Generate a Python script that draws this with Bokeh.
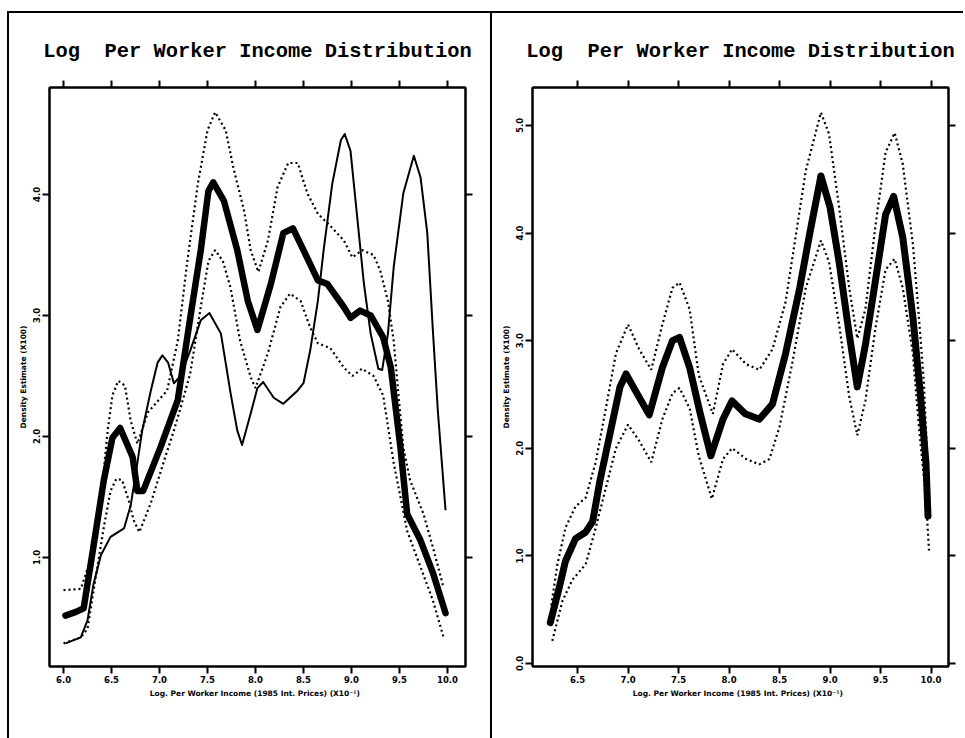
from bokeh.plotting import figure
from bokeh.layouts import row
from bokeh.models import LinearAxis, Range1d, FixedTicker, Title
from bokeh.embed import file_html
from bokeh.resources import INLINE

# ---------------- left panel ----------------
left_x_ticks = [6.0, 6.5, 7.0, 7.5, 8.0, 8.5, 9.0, 9.5, 10.0]
left_x_labels = ["6.0", "6.5", "7.0", "7.5", "8.0", "8.5", "9.0", "9.5", "10.0"]
left_y_ticks = [1.0, 2.0, 3.0, 4.0]
left_y_labels = ["1.0", "2.0", "3.0", "4.0"]

# kernel density estimate
left_est_x = [6.02, 6.13, 6.21, 6.31, 6.42, 6.51, 6.59, 6.72, 6.77, 6.83, 7.01, 7.19,
              7.32, 7.43, 7.51, 7.56, 7.67, 7.81, 7.92, 8.02, 8.16, 8.29, 8.39, 8.50,
              8.65, 8.75, 8.92, 8.99, 9.09, 9.20, 9.33, 9.41, 9.51, 9.58, 9.72, 9.85, 9.98]
left_est_y = [0.52, 0.55, 0.58, 1.08, 1.64, 1.99, 2.07, 1.83, 1.55, 1.55, 1.91, 2.30,
              2.98, 3.54, 4.03, 4.10, 3.95, 3.54, 3.12, 2.88, 3.26, 3.68, 3.72, 3.54,
              3.29, 3.26, 3.07, 2.98, 3.04, 3.00, 2.82, 2.57, 1.91, 1.36, 1.14, 0.87, 0.54]

# upper confidence band
left_up_x = [6.00, 6.18, 6.28, 6.35, 6.42, 6.46, 6.51, 6.57, 6.64, 6.70, 6.77, 6.88,
             6.99, 7.08, 7.19, 7.29, 7.40, 7.50, 7.58, 7.69, 7.77, 7.88, 7.95, 8.03,
             8.13, 8.23, 8.34, 8.44, 8.54, 8.65, 8.78, 8.92, 9.01, 9.11, 9.23, 9.30,
             9.38, 9.44, 9.49, 9.54, 9.61, 9.75, 9.85, 9.96]
left_up_y = [0.73, 0.74, 0.98, 1.36, 1.72, 2.05, 2.34, 2.46, 2.42, 2.13, 1.94, 2.20,
             2.30, 2.38, 2.79, 3.45, 4.09, 4.53, 4.68, 4.53, 4.22, 3.87, 3.54, 3.36,
             3.62, 4.06, 4.26, 4.26, 4.01, 3.84, 3.74, 3.62, 3.48, 3.54, 3.50, 3.37,
             3.12, 2.79, 2.34, 1.91, 1.64, 1.36, 1.08, 0.75]

# lower confidence band
left_lo_x = [6.00, 6.18, 6.25, 6.33, 6.42, 6.49, 6.55, 6.61, 6.68, 6.73, 6.79, 6.91,
             7.04, 7.15, 7.25, 7.32, 7.43, 7.51, 7.58, 7.66, 7.74, 7.84, 7.95, 8.00,
             8.13, 8.26, 8.36, 8.47, 8.57, 8.65, 8.78, 8.92, 9.01, 9.11, 9.23, 9.33,
             9.44, 9.58, 9.72, 9.85, 9.96]
left_lo_y = [0.29, 0.34, 0.41, 0.81, 1.25, 1.55, 1.65, 1.64, 1.47, 1.31, 1.21, 1.45,
             1.78, 2.05, 2.32, 2.52, 3.07, 3.45, 3.54, 3.45, 3.23, 2.79, 2.49, 2.40,
             2.69, 3.07, 3.18, 3.12, 2.90, 2.77, 2.73, 2.57, 2.50, 2.56, 2.50, 2.34,
             1.78, 1.22, 0.92, 0.64, 0.34]

# comparison distribution (thin line)
left_cmp_x = [6.02, 6.18, 6.25, 6.31, 6.39, 6.49, 6.63, 6.70, 6.75, 6.82, 6.91, 6.98,
              7.03, 7.09, 7.15, 7.22, 7.32, 7.43, 7.52, 7.64, 7.74, 7.81, 7.86, 7.95,
              8.02, 8.08, 8.19, 8.29, 8.44, 8.50, 8.57, 8.65, 8.71, 8.80, 8.89, 8.93,
              8.99, 9.06, 9.13, 9.20, 9.28, 9.32, 9.38, 9.44, 9.54, 9.65, 9.72, 9.79,
              9.85, 9.90, 9.98]
left_cmp_y = [0.29, 0.34, 0.48, 0.77, 1.02, 1.17, 1.24, 1.43, 1.68, 2.05, 2.38, 2.61,
              2.67, 2.61, 2.44, 2.50, 2.71, 2.96, 3.02, 2.85, 2.36, 2.05, 1.93, 2.19,
              2.40, 2.45, 2.32, 2.27, 2.38, 2.44, 2.71, 3.12, 3.54, 4.09, 4.45, 4.50,
              4.36, 3.81, 3.26, 2.85, 2.56, 2.55, 2.85, 3.40, 4.01, 4.32, 4.14, 3.68,
              2.85, 2.21, 1.39]

# ---------------- right panel ----------------
right_x_ticks = [6.5, 7.0, 7.5, 8.0, 8.5, 9.0, 9.5, 10.0]
right_x_labels = ["6.5", "7.0", "7.5", "8.0", "8.5", "9.0", "9.5", "10.0"]
right_y_ticks = [0.0, 1.0, 2.0, 3.0, 4.0, 5.0]
right_y_labels = ["0.0", "1.0", "2.0", "3.0", "4.0", "5.0"]

right_est_x = [6.23, 6.32, 6.38, 6.48, 6.58, 6.65, 6.72, 6.82, 6.92, 6.98, 7.07, 7.21,
               7.34, 7.44, 7.51, 7.61, 7.71, 7.82, 7.94, 8.03, 8.16, 8.30, 8.43, 8.56,
               8.70, 8.80, 8.91, 9.00, 9.09, 9.19, 9.27, 9.35, 9.45, 9.55, 9.63, 9.72,
               9.82, 9.89, 9.95, 9.97]
right_est_y = [0.38, 0.71, 0.95, 1.16, 1.22, 1.32, 1.69, 2.13, 2.57, 2.69, 2.54, 2.31,
               2.75, 3.00, 3.03, 2.75, 2.34, 1.93, 2.27, 2.44, 2.32, 2.27, 2.41, 2.88,
               3.49, 4.00, 4.53, 4.24, 3.73, 3.06, 2.57, 2.96, 3.56, 4.17, 4.34, 3.96,
               3.22, 2.55, 1.86, 1.37]

right_up_x = [6.24, 6.30, 6.38, 6.48, 6.58, 6.68, 6.78, 6.88, 7.00, 7.11, 7.23, 7.34,
              7.44, 7.51, 7.61, 7.70, 7.84, 7.94, 8.03, 8.17, 8.30, 8.43, 8.56, 8.66,
              8.76, 8.91, 8.99, 9.09, 9.19, 9.27, 9.35, 9.45, 9.55, 9.64, 9.72, 9.82,
              9.88, 9.93, 9.97]
right_up_y = [0.54, 0.92, 1.26, 1.46, 1.54, 1.87, 2.37, 2.88, 3.15, 2.92, 2.73, 3.15,
              3.49, 3.54, 3.29, 2.68, 2.32, 2.78, 2.92, 2.78, 2.73, 2.92, 3.36, 3.97,
              4.58, 5.12, 4.92, 4.24, 3.49, 3.02, 3.29, 4.07, 4.75, 4.93, 4.64, 3.90,
              3.22, 2.60, 1.75]

right_lo_x = [6.25, 6.35, 6.45, 6.58, 6.68, 6.78, 6.88, 7.00, 7.11, 7.23, 7.34, 7.44,
              7.51, 7.61, 7.70, 7.83, 7.94, 8.03, 8.17, 8.30, 8.40, 8.50, 8.63, 8.76,
              8.91, 8.99, 9.09, 9.19, 9.27, 9.35, 9.45, 9.55, 9.64, 9.72, 9.82, 9.88,
              9.95, 9.98]
right_lo_y = [0.21, 0.58, 0.78, 0.92, 1.26, 1.63, 2.00, 2.22, 2.07, 1.87, 2.27, 2.51,
              2.56, 2.37, 1.93, 1.53, 1.90, 2.00, 1.90, 1.85, 1.90, 2.20, 2.81, 3.49,
              3.93, 3.73, 3.15, 2.48, 2.12, 2.44, 3.12, 3.66, 3.76, 3.49, 2.88, 2.20,
              1.53, 1.05]

TITLE = "Log\u00a0\u00a0Per Worker Income Distribution"
X_LABEL = "Log. Per Worker Income (1985 Int. Prices)   (X10\u207b\u00b9)"
Y_LABEL = "Density Estimate (X100)"

MONO = "Liberation Mono"
SANS = "DejaVu Sans"


def style_axis(ax, show_labels):
    ax.axis_line_width = 2
    ax.axis_line_color = "black"
    ax.major_tick_line_width = 2
    ax.major_tick_line_color = "black"
    ax.major_tick_out = 7
    ax.major_tick_in = 0
    ax.minor_tick_line_color = None
    ax.major_label_text_font = SANS
    ax.major_label_text_font_style = "bold"
    ax.major_label_text_font_size = "8.5px"
    ax.major_label_text_color = "black" if show_labels else None
    ax.major_label_standoff = 2
    ax.axis_label_text_font = SANS
    ax.axis_label_text_font_style = "bold"
    ax.axis_label_text_font_size = "7.5px"
    ax.axis_label_text_color = "black"
    ax.axis_label_standoff = 3


def panel(width, borders, xr, yr, xt, xl, yt, yl, title_offset):
    p = figure(width=width, height=725, x_range=Range1d(*xr), y_range=Range1d(*yr),
               output_backend="svg", toolbar_location=None,
               x_axis_location=None, y_axis_location=None,
               min_border_left=borders[0], min_border_right=borders[1],
               min_border_top=borders[2], min_border_bottom=borders[3])
    p.grid.visible = False
    p.outline_line_color = "black"
    p.outline_line_width = 2
    p.background_fill_color = "white"
    p.border_fill_color = "white"

    bottom = LinearAxis(ticker=FixedTicker(ticks=xt),
                        major_label_overrides=dict(zip(xt, xl)),
                        axis_label=X_LABEL)
    style_axis(bottom, True)
    p.add_layout(bottom, "below")

    left = LinearAxis(ticker=FixedTicker(ticks=yt),
                      major_label_overrides=dict(zip(yt, yl)),
                      axis_label=Y_LABEL)
    style_axis(left, True)
    left.major_label_orientation = "vertical"
    p.add_layout(left, "left")

    top = LinearAxis(ticker=FixedTicker(ticks=xt))
    style_axis(top, False)
    p.add_layout(top, "above")

    right = LinearAxis(ticker=FixedTicker(ticks=yt))
    style_axis(right, False)
    p.add_layout(right, "right")

    p.title = Title(text=TITLE, align="center", offset=title_offset,
                    text_font=MONO, text_font_style="bold", text_font_size="20.4px",
                    text_color="black", standoff=36)
    return p


def draw(p, ex, ey, ux, uy, lx, ly, width):
    p.line(ux, uy, line_color="black", line_width=2.2, line_dash="2 3")
    p.line(lx, ly, line_color="black", line_width=2.2, line_dash="2 3")
    p.line(ex, ey, line_color="black", line_width=width, line_join="round", line_cap="round")


p1 = panel(481, (40, 25, 73, 72), (5.854, 10.188), (0.099, 4.884),
           left_x_ticks, left_x_labels, left_y_ticks, left_y_labels, -11)
p1.line(left_cmp_x, left_cmp_y, line_color="black", line_width=2, line_join="round")
draw(p1, left_est_x, left_est_y, left_up_x, left_up_y, left_lo_x, left_lo_y, 6.5)

p2 = panel(473, (40, 17, 74, 70), (6.054, 10.173), (-0.028, 5.352),
           right_x_ticks, right_x_labels, right_y_ticks, right_y_labels, -2)
draw(p2, right_est_x, right_est_y, right_up_x, right_up_y, right_lo_x, right_lo_y, 7)
p2.styles = {"border-left": "2px solid black"}

layout = row(p1, p2, styles={"border-top": "2px solid black",
                             "border-left": "2px solid black",
                             "margin-left": "7px", "margin-top": "11px",
                             "background": "white"})

open("out.html", "w").write(file_html(layout, INLINE))
